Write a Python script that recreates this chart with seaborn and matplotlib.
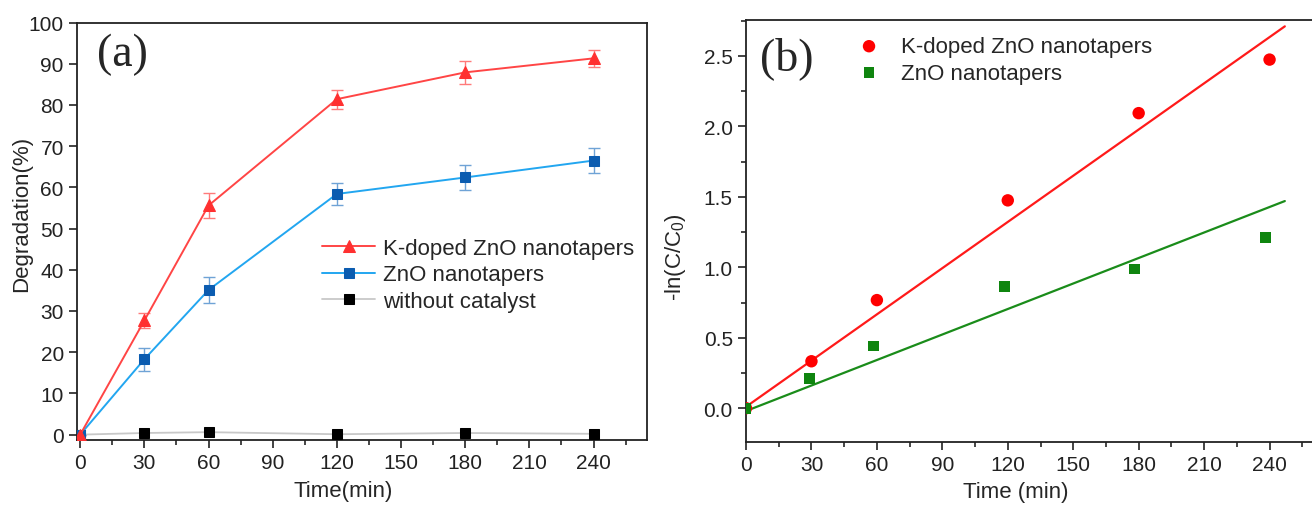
import numpy as np
import pandas as pd
import matplotlib
matplotlib.use("Agg")
import matplotlib.pyplot as plt
import seaborn as sns
from matplotlib.ticker import MultipleLocator, FixedLocator

# Panel (a) data: degradation (%) vs time
time_a = [0, 30, 60, 120, 180, 240]
kdoped_deg = [0, 27.7, 55.6, 81.4, 87.9, 91.3]
kdoped_err = [0, 1.9, 3.1, 2.3, 2.8, 2.1]
zno_deg = [0, 18.3, 35.1, 58.4, 62.4, 66.5]
zno_err = [0, 2.8, 3.2, 2.7, 3.1, 3.0]
blank_deg = [0, 0.4, 0.6, 0.1, 0.4, 0.2]

# Panel (b) data: -ln(C/C0) vs time
time_b_k = [0, 30, 60, 120, 180, 240]
kdoped_ln = [0, 0.333, 0.767, 1.475, 2.094, 2.474]
time_b_z = [0, 29, 58.5, 118.5, 178, 238]
zno_ln = [0, 0.212, 0.441, 0.864, 0.987, 1.211]

# fitted lines (end points)
fit_x = [0, 247]
kdoped_fit = [0.01, 2.71]
zno_fit = [-0.02, 1.47]

x_ticks = [0, 30, 60, 90, 120, 150, 180, 210, 240]
labels = ["K-doped ZnO nanotapers", "ZnO nanotapers", "without catalyst"]

sns.set_style("ticks")
plt.rcParams["font.family"] = ["Liberation Sans", "DejaVu Sans"]
plt.rcParams["mathtext.fontset"] = "custom"
plt.rcParams["mathtext.rm"] = "Liberation Sans"
plt.rcParams["mathtext.it"] = "Liberation Sans"

fig = plt.figure(figsize=(13.12, 5.06), dpi=100)
ax1 = fig.add_axes([77 / 1312, 1 - 441 / 506, 570 / 1312, 417.5 / 506])
ax2 = fig.add_axes([746 / 1312, 1 - 443 / 506, 589 / 1312, 422 / 506])

tick_kw = dict(labelsize=15, direction="out", width=1.2, colors="#222222")

# ---- panel (a)
df_a = pd.DataFrame({"time": time_a, "k": kdoped_deg, "z": zno_deg, "b": blank_deg})

ax1.errorbar(time_a, kdoped_deg, yerr=kdoped_err, fmt="none", ecolor="#ff7a7a",
             elinewidth=1.0, capsize=4, capthick=1.0, zorder=2)
ax1.errorbar(time_a, zno_deg, yerr=zno_err, fmt="none", ecolor="#6fa3d6",
             elinewidth=1.0, capsize=4, capthick=1.0, zorder=2)

sns.lineplot(data=df_a, x="time", y="b", ax=ax1, color="#c8c8c8", lw=1.3,
             marker="s", markersize=7, markerfacecolor="black", markeredgecolor="black",
             label=labels[2], zorder=3)
sns.lineplot(data=df_a, x="time", y="z", ax=ax1, color="#22a6f0", lw=1.4,
             marker="s", markersize=7, markerfacecolor="#0b5cb0", markeredgecolor="#0b5cb0",
             label=labels[1], zorder=4)
sns.lineplot(data=df_a, x="time", y="k", ax=ax1, color="#ff4545", lw=1.4,
             marker="^", markersize=9, markerfacecolor="#ff3030", markeredgecolor="#ff3030",
             label=labels[0], zorder=5)

ax1.set_xlim(-1.5, 265)
ax1.set_ylim(-1.3, 100)
ax1.xaxis.set_major_locator(FixedLocator(x_ticks))
ax1.xaxis.set_minor_locator(MultipleLocator(15))
ax1.yaxis.set_major_locator(MultipleLocator(10))
ax1.tick_params(which="major", length=6, **tick_kw)
ax1.tick_params(which="minor", length=3.5, width=1.2, direction="out")
ax1.set_xlabel("Time(min)", fontsize=16)
ax1.set_ylabel("Degradation(%)", fontsize=16)
ax1.xaxis.set_label_coords(0.467, -0.095)
ax1.yaxis.set_label_coords(-0.079, 0.544)

handles, labs = ax1.get_legend_handles_labels()
order = [labs.index(l) for l in labels]
ax1.legend([handles[i] for i in order], [labs[i] for i in order], frameon=False,
           loc="upper left", bbox_to_anchor=(0.43, 0.484), borderpad=0, borderaxespad=0,
           handlelength=2.4, handletextpad=0.35, labelspacing=0.25, fontsize=16)
ax1.text(0.035, 0.925, "(a)", transform=ax1.transAxes, fontsize=33,
         family="Liberation Serif", va="center", ha="left")

# ---- panel (b)
df_k = pd.DataFrame({"time": time_b_k, "val": kdoped_ln})
df_z = pd.DataFrame({"time": time_b_z, "val": zno_ln})
df_fit = pd.DataFrame({"time": fit_x, "k": kdoped_fit, "z": zno_fit})

sns.lineplot(data=df_fit, x="time", y="k", ax=ax2, color="#ff1a1a", lw=1.6, zorder=2)
sns.lineplot(data=df_fit, x="time", y="z", ax=ax2, color="#1a8c1a", lw=1.6, zorder=2)
sns.scatterplot(data=df_k, x="time", y="val", ax=ax2, color="#ff0000", s=80,
                marker="o", edgecolor="none", label=labels[0], zorder=3)
sns.scatterplot(data=df_z, x="time", y="val", ax=ax2, color="#0f850f", s=60,
                marker="s", edgecolor="none", label=labels[1], zorder=3)

ax2.set_xlim(0, 270)
ax2.set_ylim(-0.24, 2.755)
ax2.xaxis.set_major_locator(FixedLocator(x_ticks))
ax2.xaxis.set_minor_locator(MultipleLocator(15))
ax2.yaxis.set_major_locator(MultipleLocator(0.5))
ax2.yaxis.set_minor_locator(MultipleLocator(0.25))
ax2.yaxis.set_major_formatter(matplotlib.ticker.FormatStrFormatter("%.1f"))
ax2.tick_params(which="major", length=6, **tick_kw)
ax2.tick_params(which="minor", length=3.5, width=1.2, direction="out")
ax2.set_xlabel("Time (min)", fontsize=16)
ax2.set_ylabel(r"-ln(C/C$_0$)", fontsize=16)
ax2.xaxis.set_label_coords(0.458, -0.092)
ax2.yaxis.set_label_coords(-0.098, 0.44)
ax2.legend(frameon=False, loc="upper left", bbox_to_anchor=(0.19, 0.962),
           borderpad=0, borderaxespad=0, handlelength=1.0, handletextpad=0.95,
           labelspacing=0.25, fontsize=16)
ax2.text(0.024, 0.912, "(b)", transform=ax2.transAxes, fontsize=33,
         family="Liberation Serif", va="center", ha="left")

for ax in (ax1, ax2):
    for sp in ax.spines.values():
        sp.set_linewidth(1.3)
        sp.set_color("#222222")

fig.savefig("out.png", dpi=100)
